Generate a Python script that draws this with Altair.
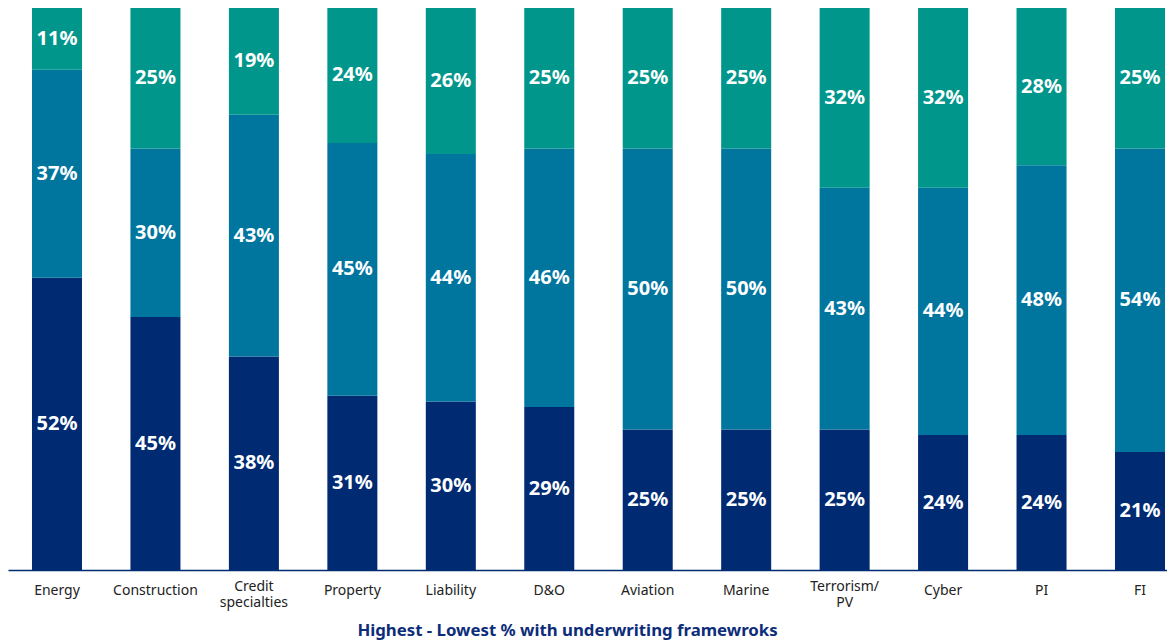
import altair as alt
import pandas as pd

categories = ["Energy", "Construction", "Credit specialties", "Property", "Liability", "D&O",
              "Aviation", "Marine", "Terrorism/PV", "Cyber", "PI", "FI"]
series_names = ["Lowest", "Middle", "Highest"]
lowest = [52, 45, 38, 31, 30, 29, 25, 25, 25, 24, 24, 21]
middle = [37, 30, 43, 45, 44, 46, 50, 50, 43, 44, 48, 54]
highest = [11, 25, 19, 24, 26, 25, 25, 25, 32, 32, 28, 25]
colors = ["#002b73", "#00769f", "#00968b"]

rows = []
for i, c in enumerate(categories):
    for k, (s, vals) in enumerate(zip(series_names, [lowest, middle, highest])):
        rows.append({"category": c, "series": s, "order": k, "value": vals[i]})
df = pd.DataFrame(rows)

label_expr = ("datum.label == 'Credit specialties' ? ['Credit', 'specialties'] : "
              "datum.label == 'Terrorism/PV' ? ['Terrorism/', 'PV'] : datum.label")
multi_test = "datum.value == 'Credit specialties' || datum.value == 'Terrorism/PV'"

x = alt.X("category:N", sort=categories,
          scale=alt.Scale(paddingInner=0.492, paddingOuter=0.132, align=0.923),
          axis=alt.Axis(title="Highest - Lowest % with underwriting framewroks",
                        labelAngle=0, labelExpr=label_expr, labelFont="Noto Sans",
                        labelFontSize=14, labelColor="#222222", labelPadding=20.5,
                        labelBaseline={"condition": {"test": multi_test, "value": "alphabetic"},
                                       "value": "middle"},
                        labelLineHeight=15.5, ticks=False, domainColor="#002b73",
                        domainWidth=1.5, titleFont="Noto Sans", titleFontSize=16.8,
                        titleFontWeight="bold", titleColor="#0d2d7a",
                        titleX=559, titleAlign="center",
                        titleY=65.5, titleBaseline="alphabetic"))

base = alt.Chart(df).transform_stack(
    stack="value", groupby=["category"], sort=[alt.SortField("order", "ascending")],
    as_=["y0", "y1"]
).transform_calculate(mid="(datum.y0 + datum.y1) / 2",
                      lab="datum.value + '%'")

yscale = alt.Scale(domain=[0, 100], nice=False)

bars = base.mark_bar().encode(
    x=x,
    y=alt.Y("y0:Q", scale=yscale, axis=None),
    y2="y1:Q",
    color=alt.Color("series:N", scale=alt.Scale(domain=series_names, range=colors), legend=None),
)

text = base.mark_text(color="white", fontWeight="bold", fontSize=20, font="Noto Sans").encode(
    x=x,
    y=alt.Y("mid:Q", scale=yscale, axis=None),
    text="lab:N",
)

chart = (bars + text).properties(
    width=1159, height=562,
    autosize=alt.AutoSizeParams(type="none"),
    padding={"left": 0, "right": 0, "top": 0, "bottom": 70},
).configure(background="white").configure_view(stroke=None)

chart.save("out.html", embed_options={"renderer": "svg", "actions": False})
